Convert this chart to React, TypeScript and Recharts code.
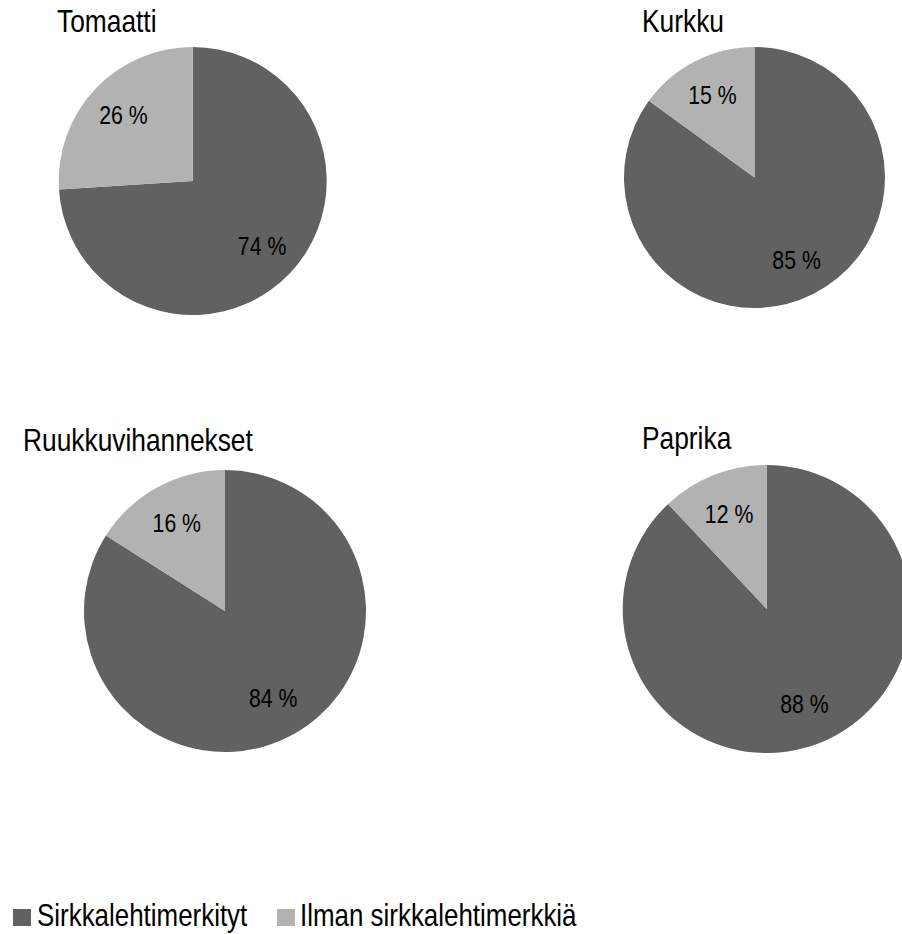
import { Cell, Legend, Pie, PieChart } from "recharts";

const categories = ["Sirkkalehtimerkityt", "Ilman sirkkalehtimerkkiä"];
const crops = ["Tomaatti", "Kurkku", "Ruukkuvihannekset", "Paprika"];
const withMark = [74, 85, 84, 88];
const withoutMark = [26, 15, 16, 12];

const COLORS = ["#616161", "#b2b2b2"];
// no narrow font installed, so squeeze Liberation Sans horizontally
const FONT = "'Liberation Sans', Arial, sans-serif";
const SQUEEZE = 0.85;

// where each pie sits on the page, plus its title anchor
const layout = [
  { cx: 192.7, cy: 181, r: 134, tx: 57, ty: 32 },
  { cx: 754.5, cy: 177.5, r: 130.5, tx: 642, ty: 32 },
  { cx: 225, cy: 611, r: 141, tx: 23, ty: 451 },
  { cx: 766.7, cy: 609, r: 144, tx: 642, ty: 449 },
];

const RAD = Math.PI / 180;

const renderLabel = (props: any) => {
  const { cx, cy, midAngle, outerRadius, value } = props;
  const rr = outerRadius * 0.71;
  const x = cx + rr * Math.cos(-midAngle * RAD);
  const y = cy + rr * Math.sin(-midAngle * RAD);
  return (
    <text
      transform={`translate(${x},${y}) scale(${SQUEEZE},1)`}
      fill="#000"
      textAnchor="middle"
      dominantBaseline="central"
      fontSize={25}
      fontFamily={FONT}
    >
      {`${value} %`}
    </text>
  );
};

const legendSlots = [
  { sx: 13, lx: 37 },
  { sx: 277, lx: 300 },
];

const renderLegend = () => (
  <svg width={620} height={40}>
    {categories.map((name, i) => (
      <g key={name}>
        <rect x={legendSlots[i].sx} y={14} width={18} height={17} fill={COLORS[i]} />
        <text
          transform={`translate(${legendSlots[i].lx},31) scale(${SQUEEZE},1)`}
          fontSize={30.5}
          fontFamily={FONT}
          fill="#000"
        >
          {name}
        </text>
      </g>
    ))}
  </svg>
);

export default function App() {
  return (
    <div style={{ position: "relative", width: 902, height: 934, background: "#fff" }}>
      <style>{"body{margin:0}"}</style>
      <PieChart width={902} height={934} margin={{ top: 0, right: 0, bottom: 0, left: 0 }}>
        {crops.map((crop, k) => {
          const data = [
            { name: categories[0], value: withMark[k] },
            { name: categories[1], value: withoutMark[k] },
          ];
          const p = layout[k];
          return (
            <Pie
              key={crop}
              data={data}
              dataKey="value"
              nameKey="name"
              cx={p.cx}
              cy={p.cy}
              outerRadius={p.r}
              startAngle={90}
              endAngle={-270}
              stroke="none"
              label={renderLabel}
              labelLine={false}
              legendType={k === 0 ? "square" : "none"}
              isAnimationActive={false}
            >
              {data.map((d, i) => (
                <Cell key={d.name} fill={COLORS[i]} />
              ))}
            </Pie>
          );
        })}
        <Legend
          content={renderLegend}
          verticalAlign="bottom"
          align="left"
          wrapperStyle={{ left: 0, top: 895, bottom: "auto", width: 620, height: 40 }}
        />
      </PieChart>
      <svg
        width={902}
        height={934}
        style={{ position: "absolute", left: 0, top: 0, pointerEvents: "none" }}
      >
        {crops.map((crop, k) => (
          <text
            key={crop}
            transform={`translate(${layout[k].tx},${layout[k].ty}) scale(${SQUEEZE},1)`}
            fontSize={31}
            fontFamily={FONT}
            fill="#000"
          >
            {crop}
          </text>
        ))}
      </svg>
    </div>
  );
}
